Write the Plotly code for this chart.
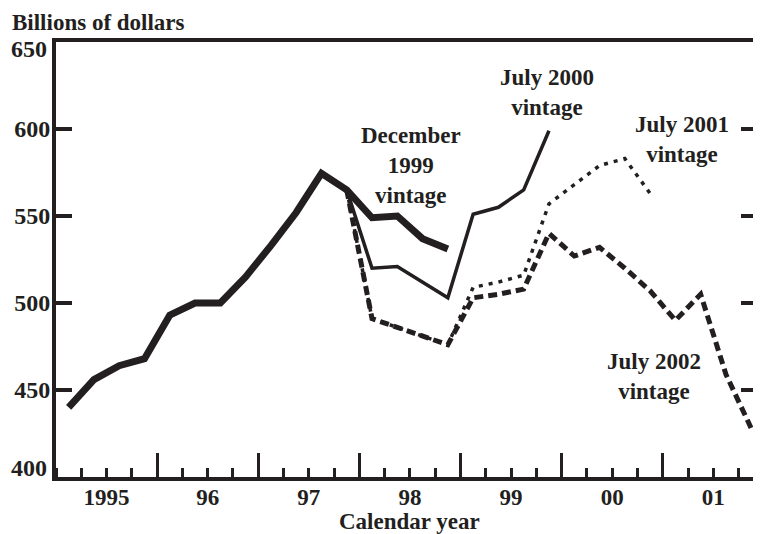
import plotly.graph_objects as go

# ---- data (quarterly, billions of dollars) ----
dec1999_start = (1995, 1)
dec1999 = [440, 456, 464, 468, 493, 500, 500, 515, 533, 552, 574.5, 565, 549, 550, 537, 531]
jul2000_start = (1997, 4)
jul2000 = [565, 520, 521, 512, 503, 551, 555, 565, 599]
jul2001_start = (1997, 4)
jul2001 = [565, 491, 486, 481, 476, 509, 512, 516, 557, 568, 579, 583, 563]
jul2002_start = (1997, 4)
jul2002 = [565, 491, 486, 481, 476, 503, 505, 508, 540, 527, 532, 520, 507, 490, 505, 459, 428]

year_ticks = [1995, 1996, 1997, 1998, 1999, 2000, 2001]
year_labels = ["1995", "96", "97", "98", "99", "00", "01"]
y_ticks = [450, 500, 550, 600]


def qx(start, n):
    y, q = start
    out = []
    for i in range(n):
        k = (q - 1) + i
        out.append(y + k // 4 + ((k % 4) + 0.5) / 4)
    return out


INK = "#231f20"
FONT = "Liberation Serif, Times New Roman, serif"
FS = 23

fig = go.Figure()
fig.add_trace(go.Scatter(x=qx(jul2002_start, len(jul2002)), y=jul2002, mode="lines",
                         line=dict(color=INK, width=5, dash="9px,5px"), name="July 2002 vintage"))
fig.add_trace(go.Scatter(x=qx(jul2001_start, len(jul2001)), y=jul2001, mode="lines",
                         line=dict(color=INK, width=3.5, dash="4px,6px"), name="July 2001 vintage"))
fig.add_trace(go.Scatter(x=qx(jul2000_start, len(jul2000)), y=jul2000, mode="lines",
                         line=dict(color=INK, width=3.5), name="July 2000 vintage"))
fig.add_trace(go.Scatter(x=qx(dec1999_start, len(dec1999)), y=dec1999, mode="lines",
                         line=dict(color=INK, width=7), name="December 1999 vintage"))
# helper (empty) trace so the overlay axis carrying the year ticks is drawn
fig.add_trace(go.Scatter(x=[], y=[], xaxis="x2", showlegend=False, hoverinfo="skip"))

xr = [1995, 1995 + 705 / 101.7]

# the page body has an 8px default margin: size / margins compensate for it
fig.update_layout(
    width=753, height=526,
    margin=dict(l=48, r=0, t=34, b=57),
    paper_bgcolor="white", plot_bgcolor="white",
    showlegend=False,
    font=dict(family=FONT, size=FS, color=INK),
    xaxis=dict(
        range=xr, showgrid=False, zeroline=False,
        showline=True, linewidth=4, linecolor=INK, mirror=True,
        tickmode="array", tickvals=[y + 0.5 for y in year_ticks], ticktext=year_labels,
        ticks="", ticklabelstandoff=-4,
        tickfont=dict(family=FONT, size=FS, color=INK, weight="bold"),
        minor=dict(tickmode="linear", tick0=1995, dtick=0.25, ticks="inside",
                   ticklen=9, tickwidth=3, tickcolor=INK, showgrid=False),
    ),
    xaxis2=dict(
        range=xr, overlaying="x", anchor="y", side="bottom", showgrid=False,
        zeroline=False, showline=False, tickmode="array", tickvals=year_ticks,
        ticks="inside", ticklen=24, tickwidth=3, tickcolor=INK, showticklabels=False,
    ),
    yaxis=dict(
        range=[400, 650], showgrid=False, zeroline=False,
        showline=True, linewidth=4, linecolor=INK, mirror="ticks",
        tickmode="array", tickvals=y_ticks, ticks="inside", ticklen=16, tickwidth=4,
        tickcolor=INK, ticklabelstandoff=-3,
        tickfont=dict(family=FONT, size=FS + 1, color=INK, weight="bold"),
    ),
)

ann_font = dict(family=FONT, size=FS, color=INK, weight="bold")
lab_font = dict(family=FONT, size=FS + 1, color=INK, weight="bold")
anns = [
    dict(text="Billions of dollars", xref="paper", yref="paper", x=(10 - 56) / 705, y=(477 - 22) / 435,
         xanchor="left", yanchor="middle"),
    dict(text="650", xref="paper", yref="y", x=(49 - 56) / 705, y=650, yshift=-7,
         xanchor="right", yanchor="middle", font=lab_font),
    dict(text="400", xref="paper", yref="y", x=(49 - 56) / 705, y=400, yshift=9,
         xanchor="right", yanchor="middle", font=lab_font),
    dict(text="Calendar year", xref="paper", yref="paper", x=(412 - 56) / 705, y=(477 - 521) / 435,
         xanchor="center", yanchor="middle"),
    dict(text="December<br>1999<br>vintage", xref="x", yref="y", x=1998.51, y=579.0,
         xanchor="center", yanchor="middle"),
    dict(text="July 2000<br>vintage", xref="x", yref="y", x=1999.857, y=620.7,
         xanchor="center", yanchor="middle"),
    dict(text="July 2001<br>vintage", xref="x", yref="y", x=2001.19, y=594.0,
         xanchor="center", yanchor="middle"),
    dict(text="July 2002<br>vintage", xref="x", yref="y", x=2000.91, y=457.8,
         xanchor="center", yanchor="middle"),
]
for a in anns:
    a.setdefault("font", ann_font)
    a["showarrow"] = False
fig.update_layout(annotations=anns)

fig.write_html("out.html")
